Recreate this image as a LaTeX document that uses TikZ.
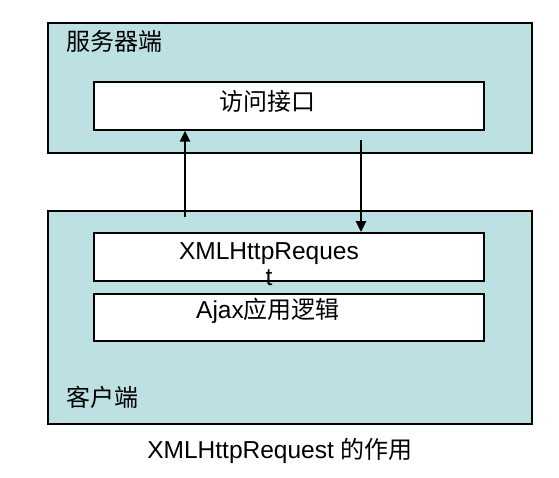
\documentclass[tikz,border=0pt]{standalone}
\usepackage{fontspec}
\setmainfont{Liberation Sans}
\newfontfamily\cjk{Noto Sans CJK SC}
\usetikzlibrary{arrows.meta}
\definecolor{panel}{RGB}{189,224,227}
\begin{document}
\begin{tikzpicture}[x=1pt,y=-1pt,
  outerbox/.style={draw=black, line width=1.6pt, fill=panel, minimum width=484pt, inner sep=0pt, anchor=north west},
  innerbox/.style={draw=black, line width=1.6pt, fill=white, minimum width=390pt, inner sep=0pt, anchor=north west},
  lbl/.style={inner sep=0pt, font=\fontsize{24}{26}\selectfont},
  arr/.style={line width=2.6pt, -{Triangle[length=11pt,width=10pt]}}]
\useasboundingbox (0,0) rectangle (559,477);
\node[outerbox, minimum height=130pt] (server) at (47,22) {};
\node[innerbox, minimum height=48pt] (access) at (93,81) {};
\node[outerbox, minimum height=213pt] (client) at (47,210) {};
\node[innerbox, minimum height=48pt] (xml) at (93,232) {};
\node[innerbox, minimum height=47pt] (ajax) at (93,293) {};
\node[lbl, anchor=west] (slabel) at (66,41) {\cjk 服务器端};
\node[lbl] (atext) at (267,101) {\cjk 访问接口};
\node[lbl, anchor=north, align=center, font=\fontsize{24.5}{26}\selectfont] (xtext) at (269,242) {XMLHttpReques\\t};
\node[lbl, anchor=base, font=\fontsize{24.5}{26}\selectfont] (jtext) at (268,318) {Ajax{\cjk\fontsize{24}{26}\selectfont 应用逻辑}};
\node[lbl, anchor=west] (clabel) at (66,397) {\cjk 客户端};
\node[lbl, anchor=base, font=\fontsize{24.5}{26}\selectfont] (caption) at (280,458) {XMLHttpRequest {\cjk\fontsize{24}{26}\selectfont 的作用}};
\coordinate (upstart) at (185,217);
\coordinate (downstart) at (361,140);
\draw[arr] (upstart) -- (upstart |- access.south);
\draw[arr] (downstart) -- (downstart |- xml.north);
\end{tikzpicture}
\end{document}
